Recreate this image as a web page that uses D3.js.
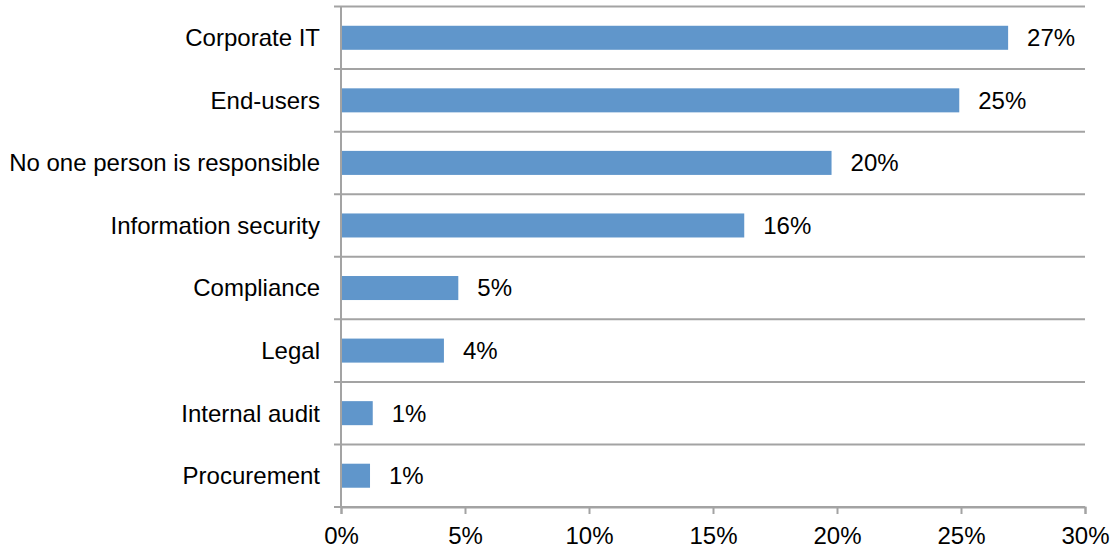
<!DOCTYPE html>
<html>
<head>
<meta charset="utf-8">
<script src="https://cdn.jsdelivr.net/npm/d3@7"></script>
<style>
  html, body { margin: 0; padding: 0; background: #fff; }
  svg { display: block; font-family: "Liberation Sans", Arial, sans-serif; }
</style>
</head>
<body>
<svg id="chart" width="1115" height="552"></svg>
<script>
// Who is responsible — share of respondents
const categories = [
  "Corporate IT",
  "End-users",
  "No one person is responsible",
  "Information security",
  "Compliance",
  "Legal",
  "Internal audit",
  "Procurement"
];
const shares = [26.9, 24.93, 19.78, 16.26, 4.73, 4.15, 1.28, 1.17];
const xTicks = [0, 5, 10, 15, 20, 25, 30];

const svg = d3.select("#chart");
const plotLeft = 341, plotRight = 1085, plotTop = 6.5, plotBottom = 507;
const gridColor = "#a3a3a3";
const barColor = "#6096cb";
const fontSize = 24;

const x = d3.scaleLinear().domain([0, 30]).range([plotLeft, plotRight]);
const y = d3.scaleBand().domain(categories).range([plotTop, plotBottom]).paddingInner(0.616).paddingOuter(0.308);

// band boundaries for horizontal separators
const step = (plotBottom - plotTop) / categories.length;
const boundaries = d3.range(categories.length + 1).map(i => plotTop + i * step);

// separators between categories, with small ticks left of the axis
svg.append("g").selectAll("line")
  .data(boundaries)
  .join("line")
  .attr("x1", plotLeft - 7).attr("x2", plotRight)
  .attr("y1", d => d).attr("y2", d => d)
  .attr("stroke", gridColor).attr("stroke-width", 2);

// bars
svg.append("g").selectAll("rect")
  .data(categories)
  .join("rect")
  .attr("x", x(0))
  .attr("y", d => y(d))
  .attr("width", (d, i) => x(shares[i]) - x(0))
  .attr("height", y.bandwidth())
  .attr("fill", barColor);

// vertical category axis
svg.append("line")
  .attr("x1", plotLeft).attr("x2", plotLeft)
  .attr("y1", plotTop).attr("y2", plotBottom)
  .attr("stroke", gridColor).attr("stroke-width", 2);

// bottom axis
const xAxis = d3.axisBottom(x)
  .tickValues(xTicks)
  .tickFormat(d => d + "%")
  .tickSize(7)
  .tickPadding(13);

const gx = svg.append("g").attr("transform", `translate(0,${plotBottom})`).call(xAxis);
gx.select(".domain").attr("stroke", gridColor).attr("stroke-width", 2);
gx.selectAll(".tick line").attr("stroke", gridColor).attr("stroke-width", 2);
gx.selectAll(".tick text")
  .attr("fill", "#000")
  .style("font-size", fontSize + "px")
  .style("font-family", '"Liberation Sans", Arial, sans-serif');

// category labels
svg.append("g").selectAll("text")
  .data(categories)
  .join("text")
  .attr("x", plotLeft - 21)
  .attr("y", d => y(d) + y.bandwidth() / 2)
  .attr("dy", "0.35em")
  .attr("text-anchor", "end")
  .attr("font-size", fontSize)
  .attr("fill", "#000")
  .text(d => d);

// value labels
svg.append("g").selectAll("text")
  .data(categories)
  .join("text")
  .attr("x", (d, i) => x(shares[i]) + 19)
  .attr("y", d => y(d) + y.bandwidth() / 2)
  .attr("dy", "0.35em")
  .attr("font-size", fontSize)
  .attr("fill", "#000")
  .text((d, i) => Math.round(shares[i]) + "%");
</script>
</body>
</html>
